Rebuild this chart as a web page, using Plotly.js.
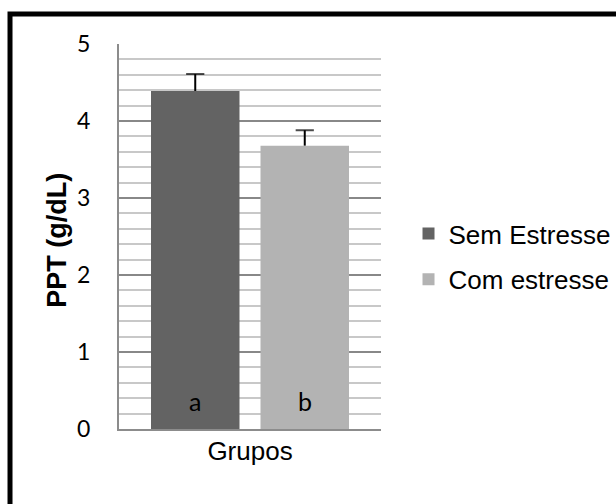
<!DOCTYPE html>
<html>
<head>
<meta charset="utf-8">
<script src="https://cdn.plot.ly/plotly-3.0.1.min.js"></script>
<style>
  html, body { margin: 0; padding: 0; background: #ffffff; }
  #chart { width: 616px; height: 504px; }
</style>
</head>
<body>
<div id="chart"></div>
<script>
// ---- data ----
const categories = ["Grupos"];
const seriesNames = ["Sem Estresse", "Com estresse"];
const semEstresse = [4.39];
const comEstresse = [3.68];
const semErr = [0.22];
const comErr = [0.20];
const letterLabels = ["a", "b"];
const yTicks = [0, 1, 2, 3, 4, 5];

const colors = ["#636363", "#b3b3b3"];
const bargap = 0.164;
const bargroupgap = 0.192;

function barTrace(name, vals, color, group) {
  return {
    type: "bar", name: name, x: categories, y: vals,
    marker: { color: color, line: { width: 0 } },
    legendgroup: group, offsetgroup: group, alignmentgroup: "a",
    hoverinfo: "skip"
  };
}
// upward-only error bar ("T") drawn as a line from bar top to top + error
function errTrace(vals, errs, group) {
  const xs = [], ys = [];
  categories.forEach((c, i) => { xs.push(c, c); ys.push(vals[i], vals[i] + errs[i]); });
  return {
    type: "scatter", mode: "lines+markers", x: xs, y: ys,
    offsetgroup: group, alignmentgroup: "a", legendgroup: group,
    showlegend: false, hoverinfo: "skip", cliponaxis: false,
    line: { color: "#000000", width: 2 },
    marker: { symbol: "line-ew", size: xs.map((_, k) => (k % 2 ? 13 : 0)),
              color: "#000000", line: { color: "#000000", width: 2 } }
  };
}

const data = [
  barTrace(seriesNames[0], semEstresse, colors[0], "g1"),
  barTrace(seriesNames[1], comEstresse, colors[1], "g2"),
  errTrace(semEstresse, semErr, "g1"),
  errTrace(comEstresse, comErr, "g2")
];

// letter labels centred on each grouped bar (offset derived from bargap)
const slot = (1 - bargap) / 2;
const annotations = letterLabels.map((t, i) => ({
  text: t, xref: "x", yref: "y",
  x: (i - 0.5) * slot, y: 0, yanchor: "bottom", xanchor: "center",
  yshift: 11, showarrow: false,
  font: { family: "Lato, sans-serif", size: 25, color: "#000000" }
}));
annotations.push({
  text: "<b>PPT (g/dL)</b>", xref: "paper", yref: "paper",
  x: -0.235, y: 0.49, textangle: -90, showarrow: false,
  xanchor: "center", yanchor: "middle",
  font: { family: "Liberation Sans, Arial, sans-serif", size: 27, color: "#000000" }
});

const layout = {
  width: 616, height: 504,
  margin: { l: 119, r: 235, t: 44, b: 75, autoexpand: false },
  paper_bgcolor: "#ffffff", plot_bgcolor: "#ffffff",
  barmode: "group", bargap: bargap, bargroupgap: bargroupgap,
  scattermode: "group", scattergap: bargap,
  showlegend: true,
  legend: {
    x: 1.105, y: 0.448, xanchor: "left", yanchor: "middle",
    font: { family: "Liberation Sans, Arial, sans-serif", size: 26, color: "#000000" },
    tracegroupgap: 9, bgcolor: "rgba(0,0,0,0)"
  },
  xaxis: {
    type: "category",
    showline: true, linecolor: "#8c8c8c", linewidth: 2,
    showgrid: false, ticks: "", zeroline: false, ticklabelstandoff: -2,
    tickfont: { family: "Liberation Sans, Arial, sans-serif", size: 26, color: "#000000" },
    fixedrange: true
  },
  yaxis: {
    range: [0, 5], tickvals: yTicks, ticktext: yTicks.map(String),
    showline: true, linecolor: "#8c8c8c", linewidth: 2,
    showgrid: true, gridcolor: "#888888", gridwidth: 2,
    zeroline: false, ticks: "", ticklabelstandoff: 22,
    minor: { dtick: 0.2, showgrid: true, gridcolor: "#c8c8c8", gridwidth: 2, ticks: "" },
    tickfont: { family: "Lato, sans-serif", size: 23, color: "#000000" },
    fixedrange: true
  },
  annotations: annotations,
  shapes: [{
    type: "rect", xref: "paper", yref: "paper", layer: "above",
    x0: -0.416, x1: 1.95, y0: -0.25, y1: 1.078,
    line: { color: "#000000", width: 5 }, fillcolor: "rgba(0,0,0,0)"
  }]
};

Plotly.newPlot("chart", data, layout, { displayModeBar: false, staticPlot: true });
</script>
</body>
</html>
